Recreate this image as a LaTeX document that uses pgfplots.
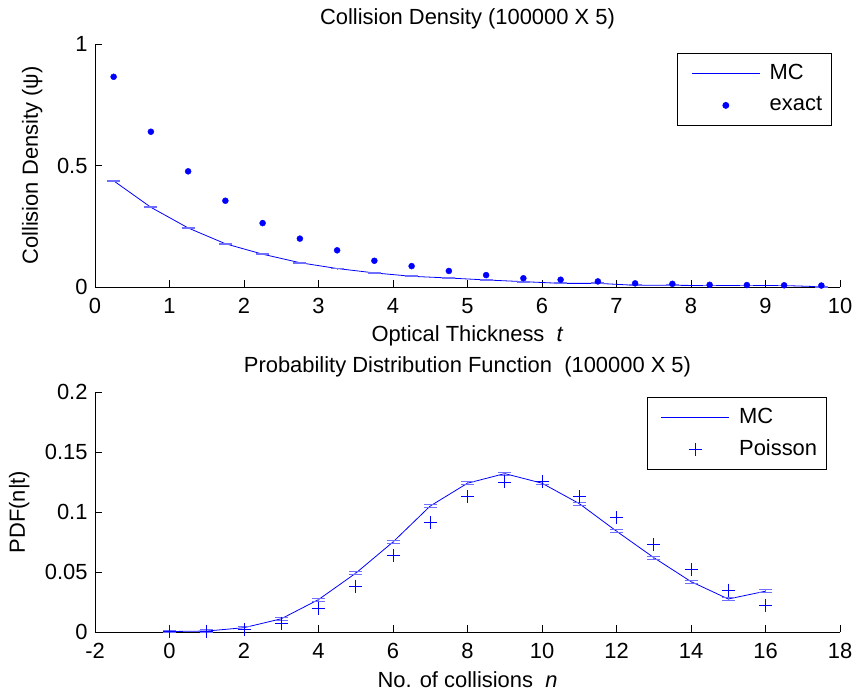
\documentclass[border=0pt]{standalone}
\usepackage{fontspec}
\setmainfont{Liberation Sans}
\usepackage{pgfplots}
\usepackage{pgfplotstable}
\pgfplotsset{compat=1.18}

\pgfplotstableread{
x y
0.25 0.437
0.75 0.328
1.25 0.243
1.75 0.178
2.25 0.135
2.75 0.100
3.25 0.076
3.75 0.058
4.25 0.044
4.75 0.037
5.25 0.029
5.75 0.022
6.25 0.015
6.75 0.015
7.25 0.007
7.75 0.007
8.25 0.006
8.75 0.006
9.25 0.006
9.75 0.001
}\mcA

\pgfplotstableread{
x y
0.25 0.865
0.75 0.639
1.25 0.476
1.75 0.355
2.25 0.263
2.75 0.199
3.25 0.151
3.75 0.108
4.25 0.086
4.75 0.066
5.25 0.049
5.75 0.036
6.25 0.030
6.75 0.023
7.25 0.015
7.75 0.013
8.25 0.009
8.75 0.008
9.25 0.007
9.75 0.006
}\exactA

\pgfplotstableread{
x y
0 0.0004
1 0.0008
2 0.0036
3 0.011
4 0.027
5 0.049
6 0.075
7 0.105
8 0.124
9 0.132
10 0.124
11 0.107
12 0.084
13 0.062
14 0.042
15 0.0275
16 0.034
}\mcB

\pgfplotstableread{
x y
0 0.0003
1 0.0005
2 0.002
3 0.007
4 0.0197
5 0.038
6 0.0636
7 0.091
8 0.113
9 0.125
10 0.1253
11 0.113
12 0.0956
13 0.0733
14 0.052
15 0.035
16 0.022
}\poisB

\definecolor{mblue}{RGB}{0,0,255}
\definecolor{capblue}{RGB}{110,110,255}

\pgfplotsset{
  mystyle/.style={
    scale only axis, width=745bp, anchor=south west,
    axis x line=bottom, axis y line=left,
    axis line style={-, draw=black, line width=0.8bp},
    tick align=inside, major tick length=7bp,
    tick style={draw=black, line width=0.8bp},
    clip=false,
    /pgf/number format/assume math mode=true,
    xticklabel style={yshift=-3.5bp},
    legend image code/.code={
      \path[draw=none,fill=none] (0bp,-16bp) rectangle (82bp,16bp);
      \draw[mark repeat=2,mark phase=2,##1] plot coordinates {(14bp,0bp)(48bp,0bp)(82bp,0bp)};
    },
    legend style={draw=black, fill=white, text=black, line width=0.8bp, inner xsep=0pt, inner ysep=4bp,
      anchor=north east, at={(axis description cs:1,1)},
      nodes={inner xsep=9.5bp, inner ysep=0pt, anchor=west, text=black}},
    legend cell align=left,
    every axis title/.style={at={(axis description cs:0.5,1)}, anchor=base, yshift=19bp, text=black},
    every axis x label/.style={at={(axis description cs:0.5,0)}, anchor=base, yshift=-55bp, text=black},
    every tick label/.append style={text=black},
  }
}

\begin{document}
\fontsize{22}{26}\selectfont
\color{mblue}%
\begin{tikzpicture}[every node/.append style={text=black}]
\useasboundingbox (-95bp,-64bp) rectangle (763bp,632bp);

\begin{axis}[mystyle, at={(0bp,345bp)}, height=243bp,
  xmin=0, xmax=10, ymin=0, ymax=1,
  xtick={0,1,2,3,4,5,6,7,8,9,10},
  xticklabels={0,1,2,3,4,5,6,7,8,9,10},
  ytick={0,0.5,1}, yticklabels={0,0.5,1},
  title={Collision Density (100000 X 5)},
  xlabel={Optical Thickness\ \ \textit{t}},
  ylabel={Collision Density (ψ)},
  every axis y label/.style={at={(axis description cs:0,0.5)}, xshift=-57bp, rotate=90, anchor=base, text=black},
  legend style={xshift=-8bp, yshift=-9bp},
]
\addplot[color=mblue, draw=mblue, line width=0.8bp, mark=none,
  error bars/.cd, y dir=both, y fixed=0.0012, error mark=|,
  error bar style={draw=capblue, line width=0.8bp},
  error mark options={draw=capblue, line width=1.2bp, mark size=6.5bp}] table {\mcA};
\addplot[only marks, color=mblue, mark=*, mark size=3bp, mark options={draw=mblue, fill=mblue}] table {\exactA};
\legend{MC, exact}
\end{axis}

\begin{axis}[mystyle, at={(0bp,0bp)}, height=240bp,
  xmin=-2, xmax=18, ymin=0, ymax=0.2,
  xtick={-2,0,2,4,6,8,10,12,14,16,18},
  xticklabels={-2,0,2,4,6,8,10,12,14,16,18},
  ytick={0,0.05,0.1,0.15,0.2}, yticklabels={0,0.05,0.1,0.15,0.2},
  title={Probability Distribution Function\ \ (100000 X 5)},
  xlabel={No. of collisions\ \ \textit{n}},
  ylabel={PDF(n|t)},
  every axis y label/.style={at={(axis description cs:0,0.5)}, xshift=-70bp, rotate=90, anchor=base, text=black},
  legend style={xshift=-13bp, yshift=-5bp},
]
\addplot[color=mblue, draw=mblue, line width=0.8bp, mark=none,
  error bars/.cd, y dir=both, y fixed=0.0012, error mark=|,
  error bar style={draw=capblue, line width=0.8bp},
  error mark options={draw=capblue, line width=1bp, mark size=6.5bp}] table {\mcB};
\addplot[only marks, color=mblue, mark=+, mark size=6.5bp, line width=0.8bp, mark options={draw=mblue}] table {\poisB};
\legend{MC, Poisson}
\end{axis}
\end{tikzpicture}
\end{document}
